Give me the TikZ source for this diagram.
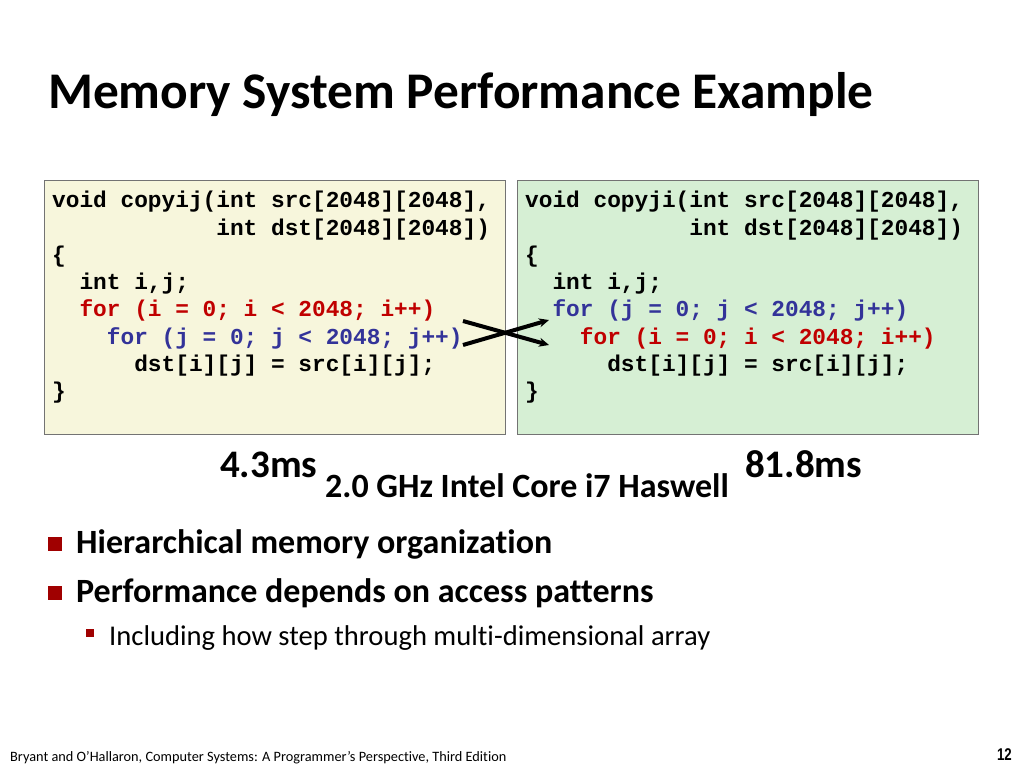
\documentclass[tikz,border=0pt]{standalone}
\usepackage{graphicx}
\usepackage{fontspec}
\setmainfont{Carlito}[Ligatures=NoCommon]
\newfontfamily\codefont{Liberation Mono}[WordSpace={1,0,0}]
\newfontfamily\numfont{Liberation Sans}
\usetikzlibrary{arrows.meta}
\definecolor{codered}{RGB}{192,0,0}
\definecolor{codeblue}{RGB}{51,51,153}
\definecolor{boxyellow}{RGB}{247,246,220}
\definecolor{boxgreen}{RGB}{214,239,212}
\definecolor{bulletred}{RGB}{160,0,0}
\newcommand{\ind}[1]{\hspace*{#1\dimexpr0.6em\relax}}
\tikzset{
  codebox/.style={draw=gray!90!black, line width=0.8pt, minimum width=461pt, minimum height=254pt, anchor=north west, inner sep=0pt},
  codetext/.style={anchor=north west, inner sep=0pt, align=left, font=\codefont\bfseries\fontsize{22.8}{27.3}\selectfont},
  crossline/.style={line width=4pt, -{Stealth[length=10pt,width=9pt]}},
  bulletsq/.style={fill=bulletred, inner sep=0pt, minimum size=14pt},
  subsq/.style={fill=bulletred, inner sep=0pt, minimum size=8pt},
}
\begin{document}
\begin{tikzpicture}[x=1pt,y=-1pt]
\useasboundingbox[fill=white] (0,0) rectangle (1024,768);
% title
\node[anchor=base west, inner sep=0pt, font=\bfseries\fontsize{51.4}{55}\selectfont] (title) at (48,108) {Memory System Performance Example};
% boxes
\node[codebox, fill=boxyellow] (lbox) at (44,180) {};
\node[codebox, fill=boxgreen] (rbox) at (517,180) {};
% code left
\node[codetext] (lcode) at (52,191) {void copyij(int src[2048][2048],\\
\ind{12}int dst[2048][2048])\\
\{\\
\ind{2}int i,j;\\
\ind{2}\textcolor{codered}{for (i = 0; i < 2048; i++)}\\
\ind{4}\textcolor{codeblue}{for (j = 0; j < 2048; j++)}\\
\ind{6}dst[i][j] = src[i][j];\\
\}};
% code right
\node[codetext] (rcode) at (525,191) {void copyji(int src[2048][2048],\\
\ind{12}int dst[2048][2048])\\
\{\\
\ind{2}int i,j;\\
\ind{2}\textcolor{codeblue}{for (j = 0; j < 2048; j++)}\\
\ind{4}\textcolor{codered}{for (i = 0; i < 2048; i++)}\\
\ind{6}dst[i][j] = src[i][j];\\
\}};
% cross arrows
\coordinate (a1) at (463,321);
\coordinate (a2) at (463,345);
\coordinate (b1) at (549,320);
\coordinate (b2) at (549,345);
\draw[crossline] (a1) -- (b2);
\draw[crossline] (a2) -- (b1);
% timings
\node[anchor=base west, inner sep=0pt, font=\bfseries\fontsize{39}{42}\selectfont] (t1) at (220,477) {4.3ms};
\node[anchor=base west, inner sep=0pt, font=\bfseries\fontsize{39}{42}\selectfont] (t2) at (745,477) {81.8ms};
\node[anchor=base west, inner sep=0pt, font=\bfseries\fontsize{34}{38}\selectfont] (cpu) at (325,497) {2.0 GHz Intel Core i7 Haswell};
% bullets
\node[bulletsq] (s1) at (55,544) {};
\node[anchor=base west, inner sep=0pt, font=\bfseries\fontsize{34}{38}\selectfont] (b1t) at (76,553) {Hierarchical memory organization};
\node[bulletsq] (s2) at (55,593) {};
\node[anchor=base west, inner sep=0pt, font=\bfseries\fontsize{34}{38}\selectfont] (b2t) at (76,602) {Performance depends on access patterns};
\node[subsq] (s3) at (89.5,632.5) {};
\node[anchor=base west, inner sep=0pt, font=\fontsize{28.6}{32}\selectfont] (b3t) at (109,645) {Including how step through multi-dimensional array};
% footer
\node[anchor=base west, inner sep=0pt, font=\fontsize{14.3}{16}\selectfont] (foot) at (10,761) {Bryant and O’Hallaron, Computer Systems: A Programmer’s Perspective, Third Edition};
\node[anchor=base east, inner sep=0pt, font=\numfont\bfseries\fontsize{17}{19}\selectfont] (page) at (1012,760) {\scalebox{0.78}[1]{12}};
\end{tikzpicture}
\end{document}
